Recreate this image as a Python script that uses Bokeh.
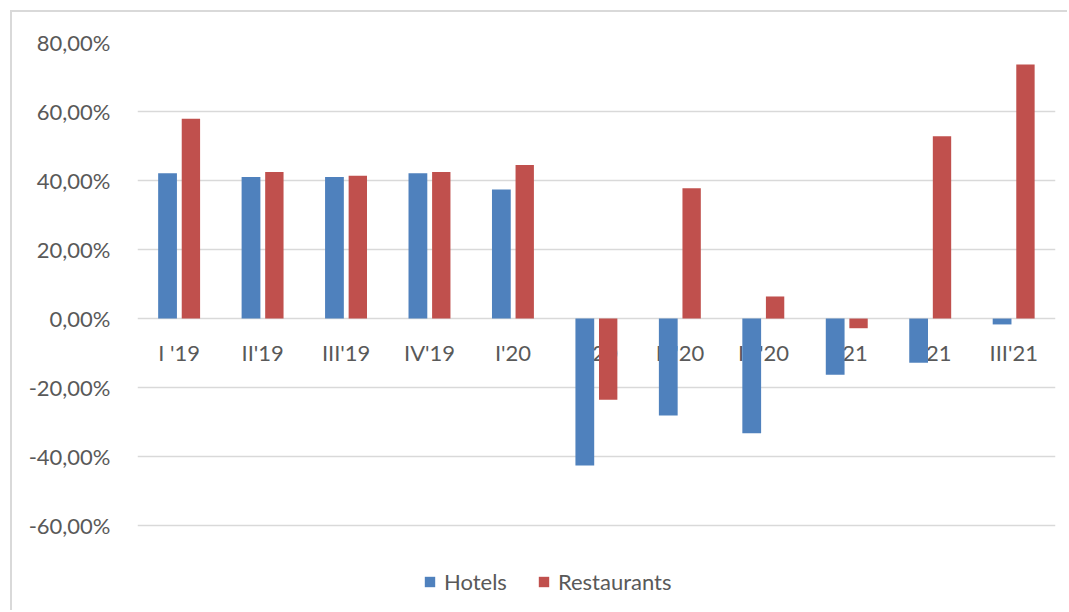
from bokeh.plotting import figure
from bokeh.models import Range1d, FactorRange, FixedTicker, Legend, LegendItem, ColumnDataSource
from bokeh.transform import dodge
from bokeh.core.properties import value
from bokeh.embed import file_html
from bokeh.resources import INLINE

quarters = ["I '19", "II'19", "III'19", "IV'19", "I'20", "II'20", "III'20", "IV'20", "I '21", "II'21", "III'21"]
hotels = [42.1, 41.0, 41.0, 42.1, 37.4, -42.6, -28.1, -33.2, -16.3, -12.8, -1.7]
restaurants = [57.9, 42.5, 41.4, 42.5, 44.5, -23.5, 37.8, 6.4, -2.8, 52.8, 73.6]
y_ticks = [-60, -40, -20, 0, 20, 40, 60, 80]
y_tick_labels = ["-60,00%", "-40,00%", "-20,00%", "0,00%", "20,00%", "40,00%", "60,00%", "80,00%"]

FONT = "Lato"
TXT = "#595959"
BLUE = "#4f81bd"
RED = "#c0504d"

src = ColumnDataSource(dict(q=quarters, hotels=hotels, restaurants=restaurants,
                            zero=[0] * len(quarters)))

# frame extends below the -60% gridline so the legend can sit inside it
p = figure(width=1057, height=600, output_backend="svg", toolbar_location=None,
           x_range=FactorRange(*quarters, range_padding=0), y_range=Range1d(-81.7, 80),
           min_border_left=125, min_border_right=14, min_border_top=30, min_border_bottom=12)
p.styles = {"margin-left": "10px", "margin-top": "10px",
            "border-left": "2px solid #d9d9d9", "border-top": "2px solid #d9d9d9"}

p.outline_line_color = None
p.background_fill_color = "white"
p.border_fill_color = "white"
p.xgrid.grid_line_color = None
p.ygrid.grid_line_color = "#d9d9d9"
p.ygrid.grid_line_width = 1.5
p.xaxis.visible = False

ya = p.yaxis[0]
ya.ticker = FixedTicker(ticks=y_ticks)
ya.major_label_overrides = {t: l for t, l in zip(y_ticks, y_tick_labels)}
ya.axis_line_color = None
ya.major_tick_line_color = None
ya.minor_tick_line_color = None
ya.major_tick_in = 0
ya.major_tick_out = 0
ya.major_label_standoff = 27
ya.major_label_text_font = FONT
ya.major_label_text_font_size = "22px"
ya.major_label_text_color = TXT

# category labels next to the zero line (drawn before bars so bars cover them)
p.text(x="q", y="zero", text="q", source=src, text_font=value(FONT), text_font_size="22px",
       text_color=TXT, text_align="center", text_baseline="middle", y_offset=34)

rh = p.vbar(x=dodge("q", -0.14, range=p.x_range), top="hotels", width=0.225, source=src,
            fill_color=BLUE, line_color=None)
rr = p.vbar(x=dodge("q", 0.14, range=p.x_range), top="restaurants", width=0.22, source=src,
            fill_color=RED, line_color=None)

legend = Legend(items=[LegendItem(label="Hotels", renderers=[rh]),
                       LegendItem(label="Restaurants", renderers=[rr])],
                location=(286, 5), orientation="horizontal",
                glyph_width=13, glyph_height=13, label_standoff=8, spacing=30,
                padding=0, margin=0, border_line_color=None, background_fill_alpha=0,
                label_text_font=FONT, label_text_font_size="22px", label_text_color=TXT)
p.add_layout(legend, "center")

open("out.html", "w").write(file_html(p, INLINE))
